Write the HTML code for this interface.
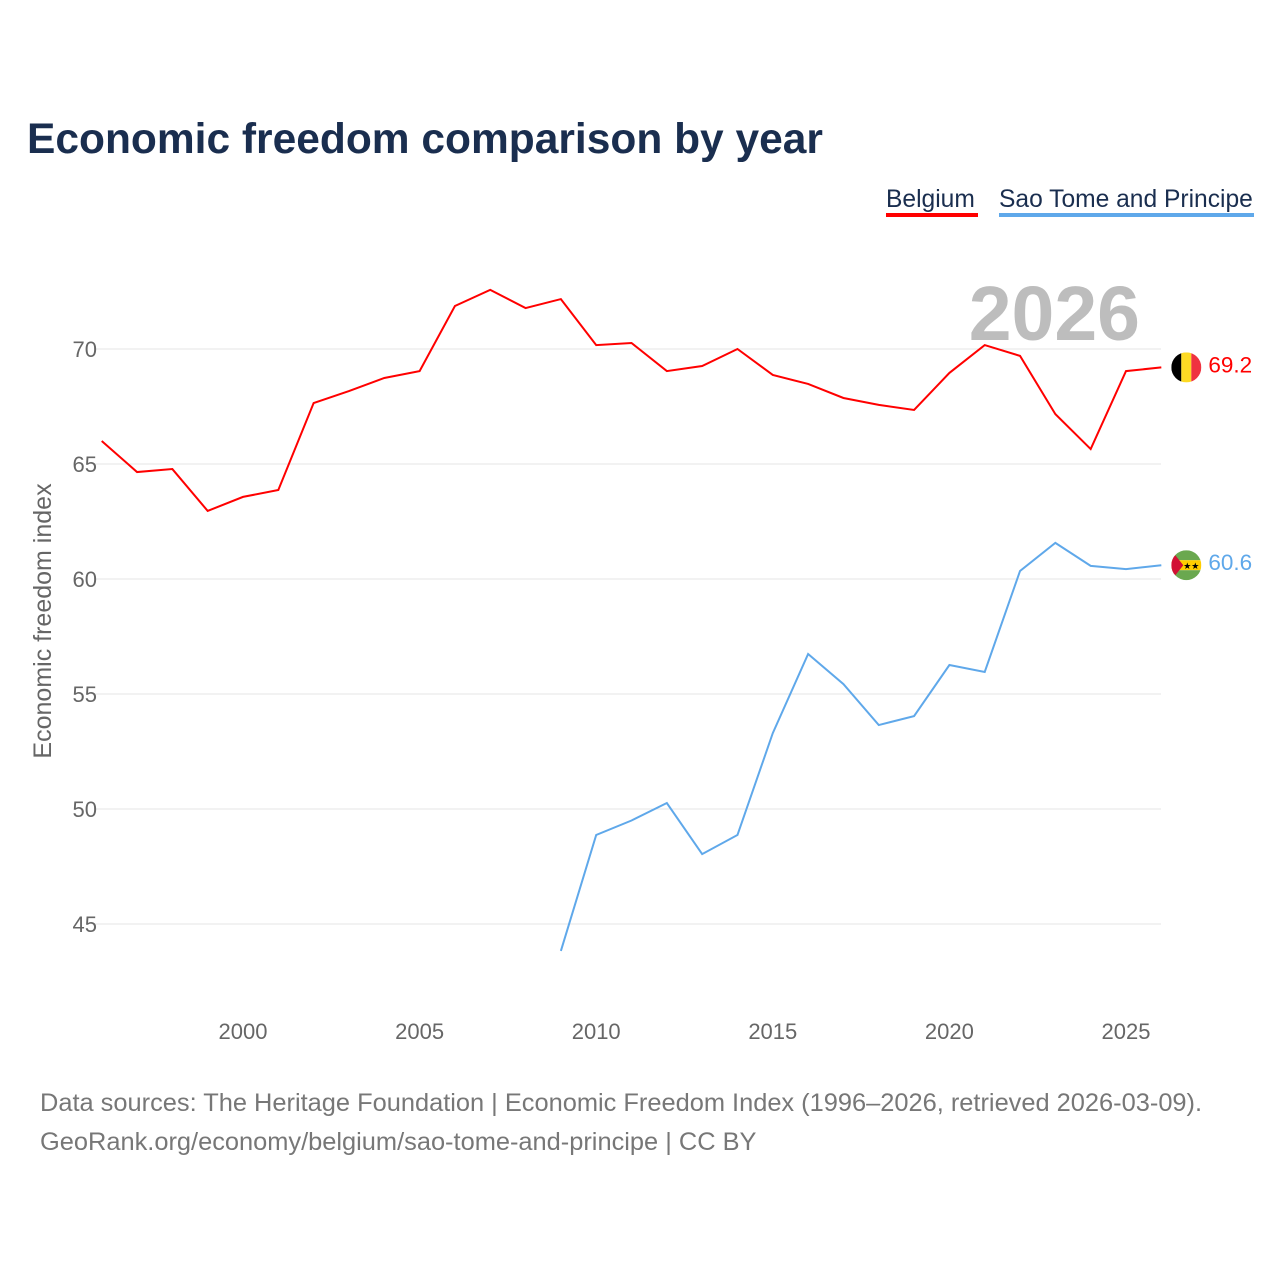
<!DOCTYPE html>
<html><head><meta charset="utf-8"><style>
body{margin:0;background:#fff;font-family:"Liberation Sans",sans-serif;}
svg text{font-family:"Liberation Sans",sans-serif;}
</style></head><body>
<svg width="1280" height="1280" xmlns="http://www.w3.org/2000/svg" id="chart">
<text x="27" y="153" font-size="42.5" font-weight="bold" fill="#1a2e4f">Economic freedom comparison by year</text>
<g>
<text x="886" y="207" font-size="24.6" fill="#1a2e4f">Belgium</text>
<rect x="886" y="213" width="92" height="4" fill="#ff0000"/></g>
<g>
<text x="999" y="207" font-size="24.6" fill="#1a2e4f">Sao Tome and Principe</text>
<rect x="999" y="213" width="255" height="4" fill="#5fa8ea"/></g>
<text x="1140" y="340" font-size="77" font-weight="bold" fill="#bdbdbd" text-anchor="end">2026</text>
<text transform="translate(51,621) rotate(-90)" font-size="25" fill="#666" text-anchor="middle">Economic freedom index</text>
<g id="grid"></g><g id="xt"></g><g id="lines"></g>
<text x="40" y="1111" font-size="25.4" fill="#777">Data sources: The Heritage Foundation | Economic Freedom Index (1996–2026, retrieved 2026-03-09).</text>
<text x="40" y="1150" font-size="25.4" fill="#777">GeoRank.org/economy/belgium/sao-tome-and-principe | CC BY</text>
</svg>
<script>
const yTicks=[45,50,55,60,65,70];
const xTicks=[2000,2005,2010,2015,2020,2025];
const belYears=[1996,1997,1998,1999,2000,2001,2002,2003,2004,2005,2006,2007,2008,2009,2010,2011,2012,2013,2014,2015,2016,2017,2018,2019,2020,2021,2022,2023,2024,2025,2026];
const belValues=[66.0,64.65,64.78,62.96,63.57,63.87,67.65,68.17,68.74,69.04,71.87,72.57,71.78,72.17,70.17,70.26,69.04,69.26,70.0,68.87,68.48,67.87,67.57,67.35,68.96,70.17,69.7,67.17,65.65,69.04,69.2];
const stpYears=[2009,2010,2011,2012,2013,2014,2015,2016,2017,2018,2019,2020,2021,2022,2023,2024,2025,2026];
const stpValues=[43.83,48.87,49.5,50.26,48.04,48.87,53.3,56.74,55.43,53.65,54.04,56.26,55.96,60.35,61.57,60.57,60.43,60.6];
const NS='http://www.w3.org/2000/svg';
const X=y=>243+(y-2000)*35.32;
const Y=v=>349-(v-70)*23;
function mk(t,a,p){const e=document.createElementNS(NS,t);for(const k in a)e.setAttribute(k,a[k]);p.appendChild(e);return e;}
const grid=document.getElementById('grid');
yTicks.forEach(v=>{
 const l=mk('line',{x1:95,x2:1161,y1:Y(v),y2:Y(v),stroke:'#e6e6e6','stroke-width':1},grid);
 
 
 const t=mk('text',{x:97,y:Y(v)+8,'font-size':22,fill:'#666','text-anchor':'end'},grid);
 t.textContent=v;
 
 
});
const xt=document.getElementById('xt');
xTicks.forEach(v=>{
 const t=mk('text',{x:X(v),y:1039,'font-size':22,fill:'#666','text-anchor':'middle'},xt);
 t.textContent=v;
 
 
});
const lines=document.getElementById('lines');
function series(ys,vs,col,name){
 const p=mk('polyline',{points:ys.map((y,i)=>X(y)+','+Y(vs[i])).join(' '),fill:'none',stroke:col,'stroke-width':2},lines);
 
 
 const lx=X(ys[ys.length-1])+25, ly=Y(vs[vs.length-1]);
 const t=mk('text',{x:lx+22,y:ly+5,'font-size':22.5,fill:col},lines);
 t.textContent=vs[vs.length-1].toFixed(1);
 
 
 return [lx,ly];
}
let [bx,by]=series(belYears,belValues,'#ff0000','belgium');
const fb=mk('g',{},lines);


mk('clipPath',{id:'cb'},fb).appendChild(document.createElementNS(NS,'circle'));
const cbc=fb.querySelector('clipPath circle');cbc.setAttribute('cx',bx);cbc.setAttribute('cy',by);cbc.setAttribute('r',15);
mk('rect',{x:bx-15,y:by-15,width:10,height:30,fill:'#000','clip-path':'url(#cb)'},fb);
mk('rect',{x:bx-5,y:by-15,width:10,height:30,fill:'#fdda24','clip-path':'url(#cb)'},fb);
mk('rect',{x:bx+5,y:by-15,width:10,height:30,fill:'#ef3340','clip-path':'url(#cb)'},fb);
let [sx,sy]=series(stpYears,stpValues,'#5fa8ea','sao-tome');
const fs=mk('g',{},lines);


mk('clipPath',{id:'cs'},fs).appendChild(document.createElementNS(NS,'circle'));
const csc=fs.querySelector('clipPath circle');csc.setAttribute('cx',sx);csc.setAttribute('cy',sy);csc.setAttribute('r',15);
mk('rect',{x:sx-15,y:sy-15,width:30,height:10,fill:'#6aa84f','clip-path':'url(#cs)'},fs);
mk('rect',{x:sx-15,y:sy-5,width:30,height:10,fill:'#ffce00','clip-path':'url(#cs)'},fs);
mk('rect',{x:sx-15,y:sy+5,width:30,height:10,fill:'#6aa84f','clip-path':'url(#cs)'},fs);
mk('polygon',{points:`${sx-15},${sy-15} ${sx-3},${sy} ${sx-15},${sy+15}`,fill:'#d21034','clip-path':'url(#cs)'},fs);
const st=mk('text',{x:sx+5,y:sy+4,'font-size':9,fill:'#000','text-anchor':'middle'},fs);st.textContent='★★';
</script>
</body></html>
